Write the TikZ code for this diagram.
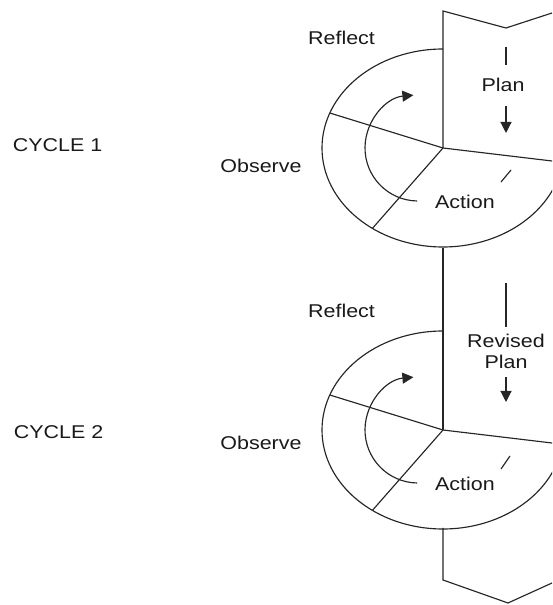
\documentclass[tikz,border=0pt]{standalone}
\usepackage{fontspec}
\setmainfont{Liberation Sans}[FakeStretch=1.16]
\usetikzlibrary{arrows.meta}

\tikzset{
  lbl/.style={font=\fontsize{18.5}{21}\selectfont, text=black!90, inner sep=0pt, align=center},
}

\begin{document}
\begin{tikzpicture}[x=10pt,y=10pt,line width=1.15pt,draw=black!85,>={Triangle[length=11pt,width=11pt]}]
        \useasboundingbox (0,0) rectangle (55.2,60.5);
        \clip (0,0) rectangle (55.2,60.5);
        % plan column
        \draw (55.2,59.2) -- (50.6,57.7) -- (44.3,59.4) -- (44.3,45.7);
        \draw (44.3,35.7) -- (44.3,17.5);
        \draw (44.3,7.7) -- (44.3,2.5) -- (50.8,0.2) -- (55.2,2.2);
        % the two cycles
        \foreach \y in {45.7,17.5} {
          \coordinate (c) at (44.3,\y);
          \draw (c) ++(90:12.1 and 9.9) arc (90:340:12.1 and 9.9);
          \draw (c) -- ++(159.3:12.1 and 9.9);
          \draw (c) -- ++(234.3:12.1 and 9.9);
          \draw (c) -- ++(13,-1.55);
          \draw[->] (c) ++(-2.5,0) ++(269:5.3) arc (269:95:5.3);
        }
        % cycle 1
        \node[lbl] (cyc1) at (5.75,46.0) {CYCLE 1};
        \node[lbl] (refl1) at (34.15,56.7) {Reflect};
        \node[lbl] (obs1) at (26.1,43.9) {Observe};
        \node[lbl] (act1) at (46.5,40.3) {Action};
        \node[lbl] (plan1) at (50.3,52.0) {Plan};
        \draw (50.6,55.8) -- (50.6,54.0);
        \draw[->] (50.6,49.9) -- (50.6,47.2);
        \draw (50.1,42.3) -- (51.1,43.5);
        % cycle 2
        \node[lbl] (cyc2) at (5.85,17.3) {CYCLE 2};
        \node[lbl] (refl2) at (34.15,29.4) {Reflect};
        \node[lbl] (obs2) at (26.1,16.2) {Observe};
        \node[lbl] (act2) at (46.5,12.1) {Action};
        \node[lbl] (plan2) at (50.6,25.35) {Revised\\Plan};
        \draw (50.6,32.2) -- (50.6,27.8);
        \draw[->] (50.6,22.8) -- (50.6,20.3);
        \draw (50.1,13.6) -- (51.0,14.9);
\end{tikzpicture}
\end{document}
